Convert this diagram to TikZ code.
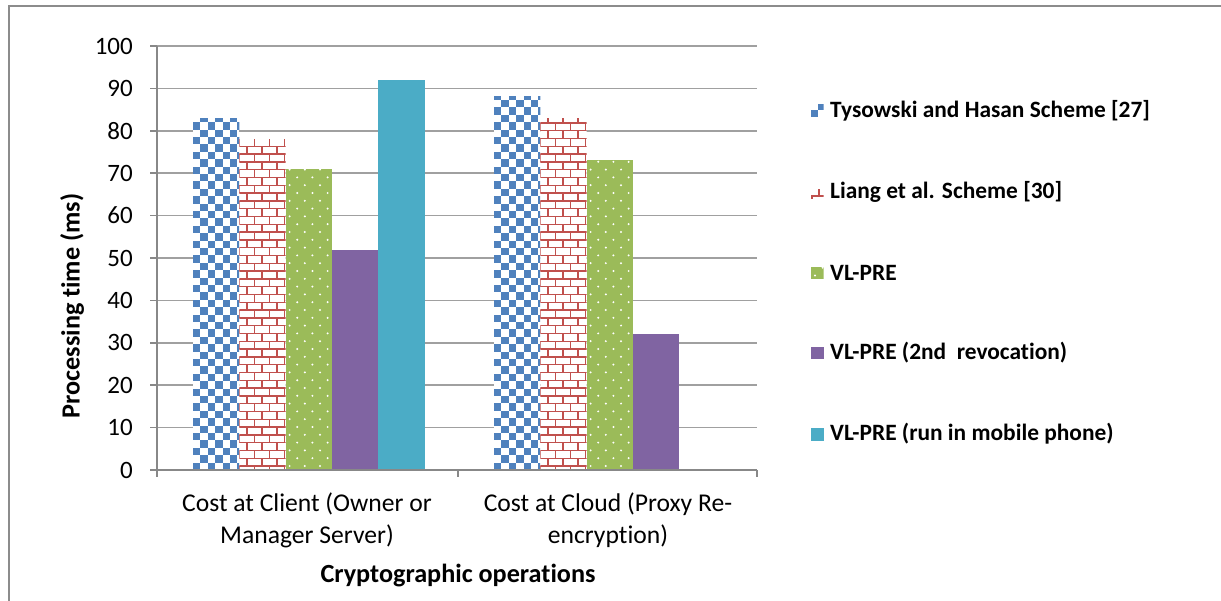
\documentclass[tikz,border=0pt]{standalone}
\usepackage{fontspec}
\setmainfont{Carlito}[RawFeature={-liga;-clig}]
\definecolor{sblue}{HTML}{4F81BD}
\definecolor{sred}{HTML}{C0504D}
\definecolor{sgreen}{HTML}{9BBB59}
\definecolor{spurple}{HTML}{8064A2}
\definecolor{scyan}{HTML}{4BACC6}
\definecolor{gridc}{HTML}{A0A0A0}
\definecolor{framec}{HTML}{8C8C8C}

% value -> vertical pixel position (0 at 470, 100 at 46)
\newcommand\valy[1]{\pgfmathsetmacro\ytop{470-4.24*(#1)}}

% checkerboard bar: left x, width, top y, bottom y
\newcommand\checkfill[4]{%
  \begin{scope}
    \clip (#1,#3) rectangle (#1+#2,#4);
    \fill[white] (#1,#3) rectangle (#1+#2,#4);
    \foreach \j in {0,...,52}{%
      \pgfmathsetmacro\off{mod(\j,2)*7.4}
      \foreach \i in {-1,...,3}{%
        \fill[sblue] (#1+\off+14.8*\i,#4-7.4*\j) rectangle ++(7.4,-7.4);
      }
    }
  \end{scope}}

% brick bar
\newcommand\brickfill[4]{%
  \begin{scope}
    \clip (#1,#3) rectangle (#1+#2,#4);
    \fill[white] (#1,#3) rectangle (#1+#2,#4);
    \foreach \j in {0,...,50}{%
      \pgfmathsetmacro\off{mod(\j,2)*7.5}
      \draw[sred,line width=1.4pt] (#1-2,#4-7.8*\j-3.9) -- ++(#2+4,0);
      \foreach \i in {0,...,3}{%
        \draw[sred,line width=1.4pt] (#1+\off+15*\i,#4-7.8*\j+3.9) -- ++(0,-7.8);
      }
    }
  \end{scope}}

% dotted bar
\newcommand\greendots[4]{%
  \begin{scope}
    \clip (#1,#3) rectangle (#1+#2,#4);
    \fill[sgreen] (#1,#3) rectangle (#1+#2,#4);
    \foreach \j in {0,...,50}{%
      \pgfmathsetmacro\off{mod(\j,2)*7.6}
      \foreach \i in {0,...,3}{%
        \fill[white] (#1+4+\off+15.2*\i,#4-4-7.8*\j) circle (1.1);
      }
    }
  \end{scope}}

\tikzset{
  ticklab/.style={anchor=east,inner sep=0pt,font=\fontsize{25}{30}\selectfont},
  catlab/.style={align=center,inner sep=0pt,font=\fontsize{25.6}{32}\selectfont},
  legtext/.style={anchor=west,inner sep=0pt,font=\fontsize{23.4}{28}\selectfont\bfseries},
  axtitle/.style={inner sep=0pt,font=\fontsize{26.2}{30}\selectfont\bfseries},
  grid line/.style={draw=gridc,line width=1.5pt},
  axis line/.style={draw=gridc!85!black,line width=1.6pt},
}

\begin{document}
\begin{tikzpicture}[x=1pt,y=-1pt]
\useasboundingbox (0,0) rectangle (1221,601);

% outer frame
\draw[framec,line width=2pt] (9,602) -- (9,6) -- (1222,6);

% horizontal grid lines and value labels
\foreach \v in {0,10,...,100}{%
  \pgfmathsetmacro\yy{470-4.24*\v}
  \draw[grid line] (150,\yy) -- (757,\yy);
  \node[ticklab] (t\v) at (133,\yy) {\v};
}

% bars: cost at client
\valy{83}\checkfill{193}{46.3}{\ytop}{470}
\valy{78}\brickfill{239.3}{46.3}{\ytop}{470}
\valy{71}\greendots{285.6}{46.3}{\ytop}{470}
\valy{52}\fill[spurple] (331.9,\ytop) rectangle (378.2,470);
\valy{92}\fill[scyan] (378.2,\ytop) rectangle (424.5,470);

% bars: cost at cloud
\valy{88}\checkfill{494}{46.3}{\ytop}{470}
\valy{83}\brickfill{540.3}{46.3}{\ytop}{470}
\valy{73}\greendots{586.6}{46.3}{\ytop}{470}
\valy{32}\fill[spurple] (632.9,\ytop) rectangle (679.2,470);

% axes
\draw[axis line] (157,46) -- (157,477);
\draw[axis line] (150,470) -- (757,470);
\foreach \xx in {458,757}{\draw[axis line] (\xx,470) -- (\xx,477);}
\foreach \v in {0,10,...,100}{%
  \pgfmathsetmacro\yy{470-4.24*\v}
  \draw[axis line] (150,\yy) -- (157,\yy);
}

% category labels
\node[catlab] (cat1) at (307,520) {Cost at Client (Owner or\\Manager Server)};
\node[catlab] (cat2) at (608,520) {Cost at Cloud (Proxy Re-\\encryption)};

% axis titles
\node[axtitle] (xtitle) at (458,576) {Cryptographic operations};
\node[axtitle,rotate=90] (ytitle) at (72,306) {Processing time (ms)};

% legend
\checkfill{811}{12.5}{105}{117.5}
\node[legtext] (l1) at (830,111) {Tysowski and Hasan Scheme [27]};
\begin{scope}
  \clip (811,186) rectangle (823.5,198.5);
  \draw[sred,line width=1.4pt] (811,196) -- (823.5,196);
  \draw[sred,line width=1.4pt] (812,196) -- (812,199);
  \draw[sred,line width=1.4pt] (819,196) -- (819,189);
\end{scope}
\node[legtext] (l2) at (830,192) {Liang et al. Scheme [30]};
\greendots{811}{12.5}{267}{279.5}
\node[legtext] (l3) at (830,273) {VL-PRE};
\fill[spurple] (811,347) rectangle (823.5,359.5);
\node[legtext] (l4) at (830,353) {VL-PRE (2nd\ \ revocation)};
\fill[scyan] (811,428) rectangle (823.5,440.5);
\node[legtext] (l5) at (830,434) {VL-PRE (run in mobile phone)};
\end{tikzpicture}
\end{document}
